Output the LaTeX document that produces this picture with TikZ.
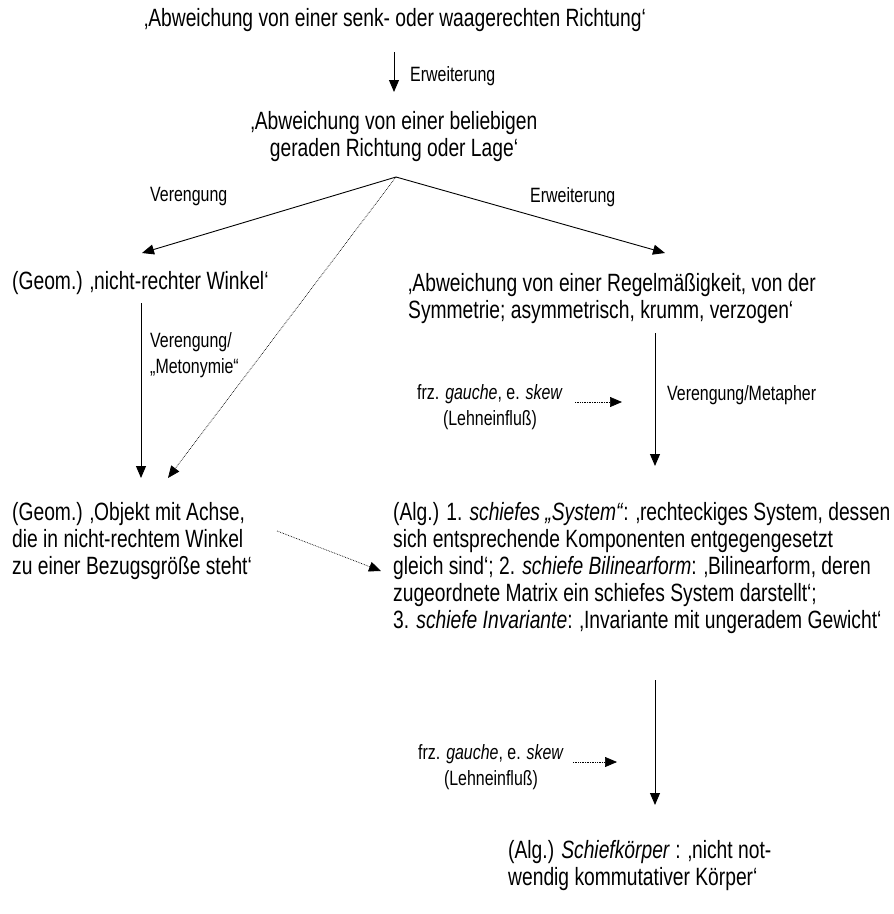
\documentclass[tikz,border=0pt]{standalone}
\usepackage{fontspec}
\setmainfont{Liberation Sans}[FakeStretch=0.77]
\usetikzlibrary{arrows.meta,calc}
\begin{document}
\begin{tikzpicture}[x=1pt,y=-1pt,
  txt/.style={inner sep=0pt, font=\fontsize{25}{27}\selectfont, align=left},
  lbl/.style={inner sep=0pt, font=\fontsize{20.7}{26}\selectfont},
  arr/.style={-{Triangle[length=12pt,width=10pt]}, line width=0.9pt},
  dotarr/.style={-{Triangle[length=12pt,width=10pt]}, line width=0.7pt, densely dotted}]
\useasboundingbox (0,0) rectangle (894,914);

% meanings
\node[txt, anchor=base] (top) at (395,26) {‚Abweichung von einer senk- oder waagerechten Richtung‘};
\node[txt, align=center, anchor=north] (n2) at (394,111) {‚Abweichung von einer beliebigen\\geraden Richtung oder Lage‘};
\node[txt, anchor=base west] (n3) at (12,289) {(Geom.) ‚nicht-rechter Winkel‘};
\node[txt, anchor=north west] (n4) at (408,273) {‚Abweichung von einer Regelmäßigkeit, von der\\Symmetrie; asymmetrisch, krumm, verzogen‘};
\node[txt, anchor=north west] (n5) at (12,502) {(Geom.) ‚Objekt mit Achse,\\die in nicht-rechtem Winkel\\zu einer Bezugsgröße steht‘};
\node[txt, anchor=north west] (n6) at (393,502) {(Alg.) 1. \textit{schiefes „System“}: ‚rechteckiges System, dessen\\sich entsprechende Komponenten entgegengesetzt\\gleich sind‘; 2. \textit{schiefe Bilinearform}: ‚Bilinearform, deren\\zugeordnete Matrix ein schiefes System darstellt‘;\\3. \textit{schiefe Invariante}: ‚Invariante mit ungeradem Gewicht‘};
\node[txt, anchor=north west] (n7) at (508,840) {(Alg.) \textit{Schiefkörper} : ‚nicht not-\\wendig kommutativer Körper‘};

% edge labels
\node[lbl, anchor=west] (l1) at (410,76) {Erweiterung};
\node[lbl, anchor=west] (l2) at (150,197) {Verengung};
\node[lbl, anchor=west] (l3) at (530,197) {Erweiterung};
\node[lbl, anchor=north west, align=left] (l4) at (150,332) {Verengung/\\„Metonymie“};
\node[lbl, anchor=west] (l5) at (667,395) {Verengung/Metapher};
\node[lbl, align=center] (l6) at (490,407) {frz. \textit{gauche}, e. \textit{skew}\\(Lehneinfluß)};
\node[lbl, align=center] (l7) at (491,767) {frz. \textit{gauche}, e. \textit{skew}\\(Lehneinfluß)};

% connector ends
\coordinate (a1s) at (394,52);  \coordinate (a1e) at (394,92);
\coordinate (apex) at (396,177);
\coordinate (tipL) at (142,253); \coordinate (tipR) at (665,253);
\coordinate (tipD) at (168,478);
\coordinate (v1s) at (141,303); \coordinate (v1e) at (141,478);
\coordinate (v2s) at (655,333); \coordinate (v2e) at (655,466);
\coordinate (d1s) at (575,402); \coordinate (d1e) at (622,402);
\coordinate (d2s) at (277,531); \coordinate (d2e) at (381,571);
\coordinate (v3s) at (655,680); \coordinate (v3e) at (655,805);
\coordinate (d3s) at (573,762); \coordinate (d3e) at (617,762);

% connectors
\draw[arr] (a1s) -- (a1e);
\draw[arr] (apex) -- (tipL);
\draw[arr] (apex) -- (tipR);
\draw[dotarr] (apex) -- (tipD);
\draw[arr] (v1s) -- (v1e);
\draw[arr] (v2s) -- (v2e);
\draw[dotarr] (d1s) -- (d1e);
\draw[dotarr] (d2s) -- (d2e);
\draw[arr] (v3s) -- (v3e);
\draw[dotarr] (d3s) -- (d3e);
\end{tikzpicture}
\end{document}
